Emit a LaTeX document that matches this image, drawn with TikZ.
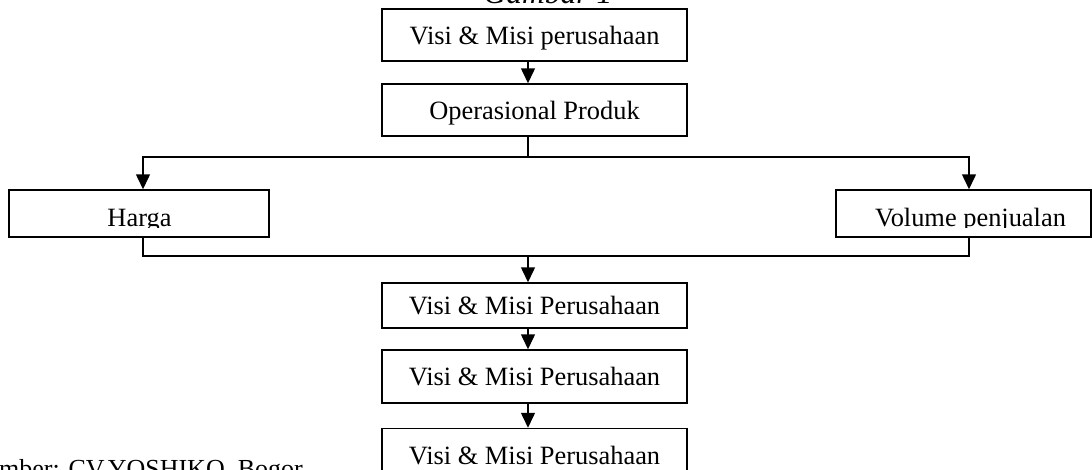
\documentclass[tikz,border=0pt]{standalone}
\usepackage{fontspec}
\setmainfont{Liberation Serif}
\usetikzlibrary{arrows.meta}
\tikzset{
  boxnode/.style={draw, line width=1.5pt, inner sep=0pt, minimum width=305pt, minimum height=52pt,
    text height=18pt, text depth=0pt, font=\fontsize{26.4}{30}\selectfont},
  sidebox/.style={draw, line width=1.5pt, inner sep=0pt, minimum height=47pt},
  sidetext/.style={anchor=base, inner sep=0pt, font=\fontsize{26.4}{30}\selectfont},
  conn/.style={line width=1.5pt},
  arr/.style={line width=1.5pt, -{Triangle[length=15pt,width=14pt]}}
}
\begin{document}
\begin{tikzpicture}[x=1pt,y=-1pt]
\useasboundingbox (0,0) rectangle (1092,469);
\clip (0,0) rectangle (1092,469);
% title (cut at top)
\node[anchor=base, inner sep=0pt, font=\fontsize{31.5}{34}\selectfont\itshape] (title) at (548,3) {Gambar 1};
% boxes
\node[boxnode] (b1) at (534.5,35) {Visi \& Misi perusahaan};
\node[boxnode] (b2) at (534.5,110) {Operasional Produk};
\node[sidebox, minimum width=260pt] (harga) at (139,213.5) {};
\node[sidebox, minimum width=255pt] (vol) at (963.5,213.5) {};
\begin{scope}
  \clip (0,180) rectangle (1092,227.5);
  \node[sidetext] (hargat) at (139.5,226) {Harga};
  \node[sidetext] (volt) at (970.5,226) {Volume penjualan};
\end{scope}
\node[boxnode, minimum height=45pt] (b3) at (534.5,305.5) {Visi \& Misi Perusahaan};
\node[boxnode, minimum height=53pt] (b4) at (534.5,376.5) {Visi \& Misi Perusahaan};
\node[boxnode, minimum height=53pt] (b5) at (534.5,455) {Visi \& Misi Perusahaan};
% source (cut at left and bottom)
\node[anchor=base west, inner sep=0pt, font=\fontsize{26}{30}\selectfont] (src) at (-1,477.5) {mber: CV.YOSHIKO\ \ Bogor};
% connectors
\coordinate (split) at (528,157);
\coordinate (join) at (528,256);
\draw[arr] ([xshift=-6.5pt]b1.south) -- ([xshift=-6.5pt]b2.north);
\draw[conn] ([xshift=-6.5pt]b2.south) -- (split);
\draw[arr] (split) -| ([xshift=4pt]harga.north);
\draw[arr] (split) -| ([xshift=5.5pt]vol.north);
\draw[conn] ([xshift=4pt]harga.south) |- (join);
\draw[conn] ([xshift=5.5pt]vol.south) |- (join);
\draw[arr] (join) -- ([xshift=-6.5pt]b3.north);
\draw[arr] ([xshift=-6.5pt]b3.south) -- ([xshift=-6.5pt]b4.north);
\draw[arr] ([xshift=-6.5pt]b4.south) -- ([xshift=-6.5pt]b5.north);
\end{tikzpicture}
\end{document}
